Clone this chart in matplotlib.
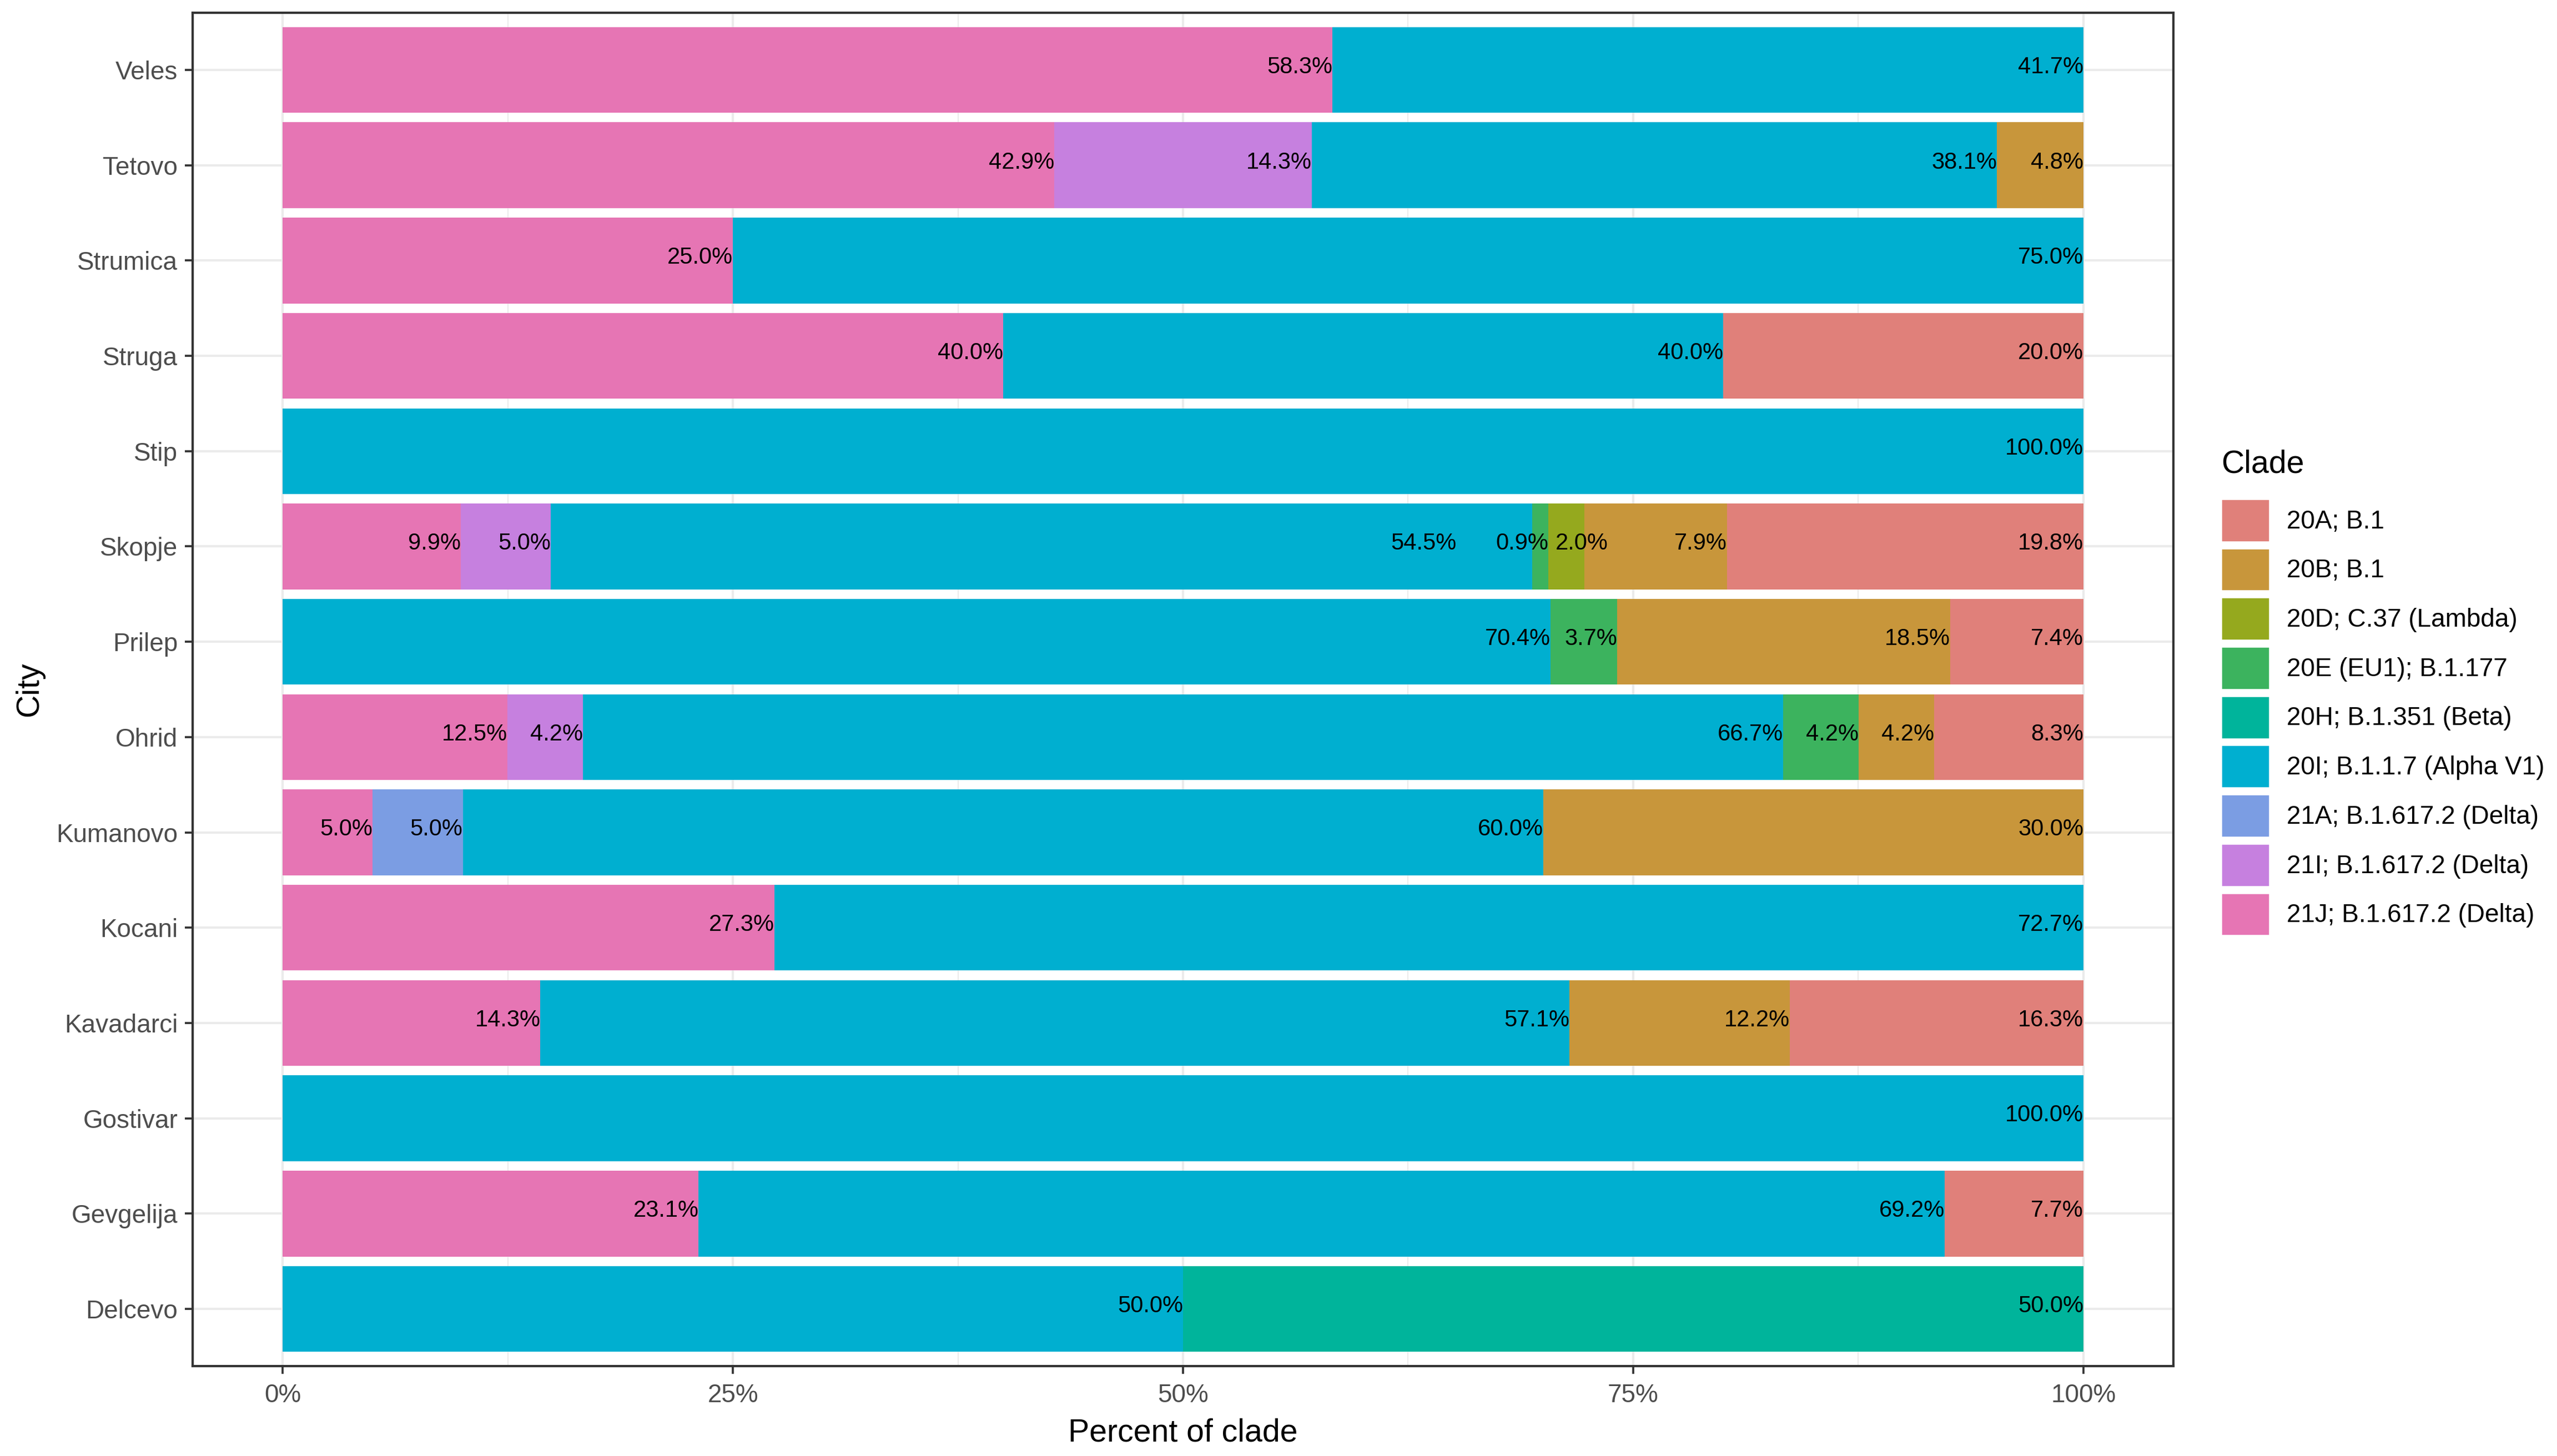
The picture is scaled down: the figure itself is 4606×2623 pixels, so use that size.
import numpy as np
import matplotlib
matplotlib.use("Agg")
import matplotlib.pyplot as plt
from matplotlib.patches import Patch

plt.rcParams['font.family'] = ['Liberation Sans', 'DejaVu Sans']

# cities, bottom to top
cities = ['Delcevo', 'Gevgelija', 'Gostivar', 'Kavadarci', 'Kocani', 'Kumanovo',
          'Ohrid', 'Prilep', 'Skopje', 'Stip', 'Struga', 'Strumica', 'Tetovo', 'Veles']

# clades in legend order
clades = ['20A; B.1', '20B; B.1', '20D; C.37 (Lambda)', '20E (EU1); B.1.177',
          '20H; B.1.351 (Beta)', '20I; B.1.1.7 (Alpha V1)', '21A; B.1.617.2 (Delta)',
          '21I; B.1.617.2 (Delta)', '21J; B.1.617.2 (Delta)']

colors = ['#E0807A', '#C8963B', '#95A91E', '#3CB35E', '#00B49B',
          '#00AFD0', '#7B9DE3', '#C680DF', '#E675B4']

# percent per city (same order as cities)
p20A = [0, 7.7, 0, 16.3, 0, 0, 8.3, 7.4, 19.8, 0, 20.0, 0, 0, 0]
p20B = [0, 0, 0, 12.2, 0, 30.0, 4.2, 18.5, 7.9, 0, 0, 0, 4.8, 0]
p20D = [0, 0, 0, 0, 0, 0, 0, 0, 2.0, 0, 0, 0, 0, 0]
p20E = [0, 0, 0, 0, 0, 0, 4.2, 3.7, 0.9, 0, 0, 0, 0, 0]
p20H = [50.0, 0, 0, 0, 0, 0, 0, 0, 0, 0, 0, 0, 0, 0]
p20I = [50.0, 69.2, 100.0, 57.1, 72.7, 60.0, 66.7, 70.4, 54.5, 100.0, 40.0, 75.0, 38.1, 41.7]
p21A = [0, 0, 0, 0, 0, 5.0, 0, 0, 0, 0, 0, 0, 0, 0]
p21I = [0, 0, 0, 0, 0, 0, 4.2, 0, 5.0, 0, 0, 0, 14.3, 0]
p21J = [0, 23.1, 0, 14.3, 27.3, 5.0, 12.5, 0, 9.9, 0, 40.0, 25.0, 42.9, 58.3]

vals = np.array([p20A, p20B, p20D, p20E, p20H, p20I, p21A, p21I, p21J])
frac = vals / vals.sum(axis=0)

# labels pushed apart where they would collide (clade index, city index): dx
nudge = {(5, 8): -0.042, (2, 8): 0.013}

fig = plt.figure(figsize=(4606 / 300, 2623 / 300), dpi=300)
ax = fig.add_axes([347 / 4606, 1 - 2461 / 2623, (3915 - 347) / 4606, (2461 - 23) / 2623])

y = np.arange(len(cities))
left = np.zeros(len(cities))
# stack from the last clade (21J) on the left to 20A on the right
for i in range(len(clades) - 1, -1, -1):
    ax.barh(y, frac[i], left=left, height=0.9, color=colors[i], linewidth=0, zorder=2)
    right = left + frac[i]
    for j in range(len(cities)):
        if vals[i, j] > 0:
            ax.text(right[j] + nudge.get((i, j), 0), y[j] + 0.03, f'{vals[i, j]:.1f}%',
                    ha='right', va='center', fontsize=10, color='black', zorder=3)
    left = right

ax.set_xlim(-0.05, 1.05)
ax.set_ylim(-0.6, len(cities) - 0.4)
ax.set_yticks(y)
ax.set_yticklabels(cities)
ax.set_xticks([0, 0.25, 0.5, 0.75, 1.0])
ax.set_xticklabels(['0%', '25%', '50%', '75%', '100%'])
ax.set_xticks([0.125, 0.375, 0.625, 0.875], minor=True)

ax.grid(True, which='major', color='#EBEBEB', linewidth=1.0, zorder=0)
ax.grid(True, which='minor', axis='x', color='#EBEBEB', linewidth=0.5, zorder=0)
ax.set_axisbelow(True)
ax.tick_params(axis='both', which='major', length=3.4, width=0.9, color='#333333',
               labelsize=11, labelcolor='#4D4D4D', pad=3)
ax.tick_params(axis='x', which='major', pad=4)
ax.tick_params(axis='x', which='minor', length=0)
for s in ax.spines.values():
    s.set_color('#333333')
    s.set_linewidth(1.0)

ax.set_xlabel('Percent of clade', fontsize=13.75, labelpad=4.5)
ax.set_ylabel('City', fontsize=13.75, labelpad=5)

# legend title placed on its own, keys below
fig.text(4001 / 4606, 1 - 836 / 2623, 'Clade', fontsize=13.75, ha='left', va='center')
handles = [Patch(facecolor=c, edgecolor='white', linewidth=0.6) for c in colors]
leg = fig.legend(handles, clades, loc='upper left',
                 bbox_to_anchor=(4001 / 4606, 1 - 899 / 2623), frameon=False,
                 fontsize=11, handlelength=1.9, handleheight=2.2, labelspacing=0.26,
                 handletextpad=0.68, borderpad=0, borderaxespad=0)

fig.savefig('out.png', dpi=300, facecolor='white')
